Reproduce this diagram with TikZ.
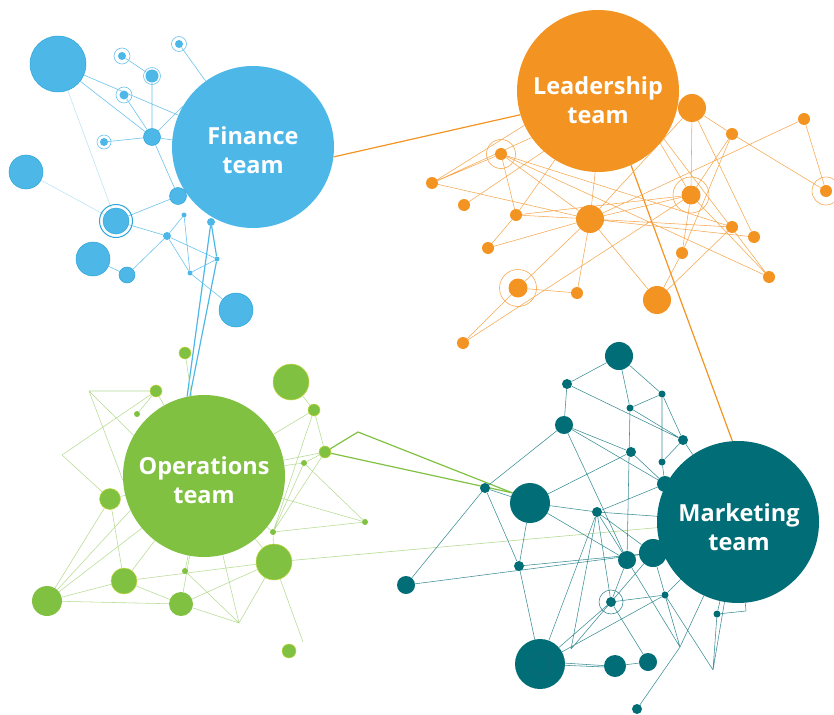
\documentclass[tikz,border=0pt]{standalone}
\usepackage{fontspec}
\setmainfont{Open Sans}
\usetikzlibrary{backgrounds}
\definecolor{fb}{HTML}{4DB8E8}
\definecolor{fbd}{HTML}{2BA5D8}
\definecolor{fbl}{HTML}{6CC3EC}
\definecolor{fo}{HTML}{F39422}
\definecolor{fol}{HTML}{F5A850}
\definecolor{fg}{HTML}{80C142}
\definecolor{fgy}{HTML}{C6D940}
\definecolor{fgl}{HTML}{B6DB93}
\definecolor{ft}{HTML}{006D77}
\definecolor{ftl}{HTML}{3A8E96}
\definecolor{ftr}{HTML}{1F5F7A}
\begin{document}
\begin{tikzpicture}[x=1pt,y=-1pt,
  bn/.style={circle,inner sep=0pt,minimum size=#1,fill=fb,draw=fbd,line width=0.5pt},
  on/.style={circle,inner sep=0pt,minimum size=#1,fill=fo},
  gn/.style={circle,inner sep=0pt,minimum size=#1,fill=fg,draw=fgy,line width=0.5pt},
  tn/.style={circle,inner sep=0pt,minimum size=#1,fill=ft},
  bigc/.style={circle,inner sep=0pt,minimum size=162pt,fill=#1},
  lbl/.style={text=white,font=\fontsize{23.5}{29}\selectfont\bfseries,align=center,inner sep=0pt},
  be/.style={draw=fbl,line width=0.6pt},
  bef/.style={draw=fbl!45,line width=0.6pt},
  oe/.style={draw=fol,line width=0.55pt},
  ge/.style={draw=fgl,line width=0.55pt},
  te/.style={draw=ftl,line width=0.55pt},
  ring/.style={line width=0.6pt}
]
\useasboundingbox (0,0) rectangle (834,714);

% ---------- big nodes ----------
\node[bigc=fb] (F) at (253,147) {};
\node[bigc=fo] (L) at (598,91) {};
\node[bigc=fg] (O) at (204,476) {};
\node[bigc=ft] (M) at (738,522) {};
\node[lbl] (Ft) at (253,150) {Finance\\team};
\node[lbl] (Lt) at (598,100) {Leadership\\team};
\node[lbl] (Ot) at (204,480) {Operations\\team};
\node[lbl] (Mt) at (739,527) {Marketing\\team};

% ---------- blue ----------
\node[bn=56pt] (b1) at (58,64) {};
\node[bn=34pt] (b2) at (26,172) {};
\node[bn=26pt] (b3) at (116,221) {};
\node[bn=34pt] (b4) at (93,259) {};
\node[bn=16pt] (b5) at (127,275) {};
\node[bn=34pt] (b6) at (236,310) {};
\node[bn=17pt] (b7) at (152,137) {};
\node[bn=17pt] (b8) at (178,196) {};
\node[bn=8pt,draw=none] (r1) at (122,56) {};
\node[bn=13pt,draw=none] (r2) at (152,76) {};
\node[bn=9pt,draw=none] (r3) at (124,95) {};
\node[bn=8pt,draw=none] (r4) at (104,142) {};
\node[bn=8pt,draw=none] (r5) at (179,44) {};
\node[bn=5pt,draw=none] (s1) at (184,215) {};
\node[bn=8pt,draw=none] (s2) at (211,222) {};
\node[bn=8pt,draw=none] (s3) at (167,236) {};
\node[bn=5pt,draw=none] (s4) at (217,259) {};
\node[bn=5pt,draw=none] (s5) at (190,273) {};
\draw[fbd,line width=1pt] (b3) circle (16.5pt);
\draw[fbl,ring] (r1) circle (8pt);
\draw[fbl,ring] (r2) circle (8.5pt);
\draw[fbl,ring] (r3) circle (8pt);
\draw[fbl,ring] (r4) circle (7pt);
\draw[fbl,ring] (r5) circle (7.5pt);

% ---------- orange ----------
\node[on=28pt] (o1) at (590,219) {};
\node[on=28pt] (o2) at (692,108) {};
\node[on=19pt] (o3) at (691,195) {};
\node[on=12pt] (o4) at (501,154) {};
\node[on=19pt] (o5) at (518,288) {};
\node[on=12pt] (o6) at (826,191) {};
\node[on=28pt] (o7) at (657,300) {};
\node[on=12pt] (o8) at (432,183) {};
\node[on=12pt] (o9) at (464,205) {};
\node[on=12pt] (o10) at (516,215) {};
\node[on=12pt] (o11) at (488,248) {};
\node[on=12pt] (o12) at (577,293) {};
\node[on=12pt] (o13) at (463,343) {};
\node[on=12pt] (o14) at (732,134) {};
\node[on=12pt] (o15) at (804,119) {};
\node[on=12pt] (o16) at (732,227) {};
\node[on=12pt] (o17) at (754,237) {};
\node[on=12pt] (o18) at (682,253) {};
\node[on=12pt] (o19) at (769,277) {};
\draw[fol,ring] (o3) circle (18pt);
\draw[fol,ring] (o4) circle (14.5pt);
\draw[fol,ring] (o5) circle (18.5pt);
\draw[fol,ring] (o6) circle (14pt);

% ---------- green ----------
\node[gn=36pt] (g1) at (291,382) {};
\node[gn=12pt] (g2) at (314,410) {};
\node[gn=12pt] (g3) at (325,452) {};
\node[gn=6pt,draw=none] (g4) at (304,463) {};
\node[gn=6pt,draw=none] (g5) at (365,522) {};
\node[gn=6pt,draw=none] (g6) at (273,532) {};
\node[gn=36pt] (g7) at (274,562) {};
\node[gn=12pt] (g8) at (185,353) {};
\node[gn=12pt] (g9) at (156,391) {};
\node[gn=6pt,draw=none] (g10) at (137,414) {};
\node[gn=21pt] (g11) at (110,499) {};
\node[gn=26pt] (g12) at (124,581) {};
\node[gn=30pt,draw=none] (g13) at (47,601) {};
\node[gn=24pt,draw=none] (g14) at (181,604) {};
\node[gn=6pt,draw=none] (g15) at (185,571) {};
\node[gn=14pt] (g16) at (289,651) {};
\coordinate (gv1) at (89,391);
\coordinate (gv2) at (62,455);
\coordinate (gv3) at (239,623);
\coordinate (gv4) at (303,642);
\coordinate (gv5) at (358,432);

% ---------- teal ----------
\node[tn=28pt] (t1) at (619,356) {};
\node[tn=10pt] (t2) at (567,384) {};
\node[tn=18pt] (t3) at (564,425) {};
\node[tn=7pt] (t4) at (662,394) {};
\node[tn=7pt] (t5) at (630,408) {};
\node[tn=10pt] (t6) at (683,440) {};
\node[tn=10pt] (t7) at (631,452) {};
\node[tn=7pt] (t8) at (662,462) {};
\node[tn=16pt] (t9) at (665,484) {};
\node[tn=10pt] (t10) at (485,488) {};
\node[tn=40pt] (t11) at (530,503) {};
\node[tn=10pt] (t12) at (597,512) {};
\node[tn=10pt] (t13) at (519,566) {};
\node[tn=18pt] (t14) at (406,585) {};
\node[tn=18pt] (t15) at (627,560) {};
\node[tn=28pt] (t16) at (653,553) {};
\node[tn=10pt] (t17) at (611,602) {};
\node[tn=7pt] (t18) at (665,595) {};
\node[tn=7pt] (t19) at (717,614) {};
\node[tn=50pt] (t20) at (540,664) {};
\node[tn=22pt] (t21) at (615,666) {};
\node[tn=18pt] (t22) at (648,662) {};
\node[tn=10pt] (t23) at (637,709) {};
\coordinate (tv1) at (571,649);
\coordinate (tv2) at (680,647);
\coordinate (tv3) at (713,670);
\coordinate (tv4) at (746,611);
\draw[ftl,ring] (t17) circle (12pt);
\draw[ftr,line width=0.4pt] (t20) circle (11pt);

\begin{pgfonlayer}{background}
% inter-cluster
\draw[fo,line width=1.2pt] (F.-7) -- (L.197);
\draw[fo,line width=1.2pt] (L.-66) -- (M.94);
\draw[fb,line width=1.2pt] (s2) -- (O.102);
\draw[fb,line width=1.2pt] (s2) -- (s4) -- (O.100);
\draw[fg,line width=1.2pt] (g3) -- (gv5) -- (t11.150);
\draw[fg,line width=1.2pt] (g3) -- (t11.150);
\draw[fgl,line width=0.6pt] (g7) -- (M.184);

% blue edges
\draw[be] (b1) -- (F) (b1) -- (b7) (r1) -- (r2) (r2) -- (b7) (r3) -- (b7)
  (r4) -- (b7) (r5) -- (F) (b7) -- (F.175) (b7) -- (F.150) (b7) -- (b8)
  (b3) -- (b8) (b3) -- (s3) (s3) -- (s4) (s3) -- (s1) (s3) -- (s5)
  (s3) -- (b5) (s1) -- (s5) (s5) -- (s4) (s5) -- (b6) (b4) -- (b5)
  (b8) -- (F);
\draw[bef] (b1) -- (b3) (b2) -- (b3);

% orange edges
\draw[oe] (o8) -- (o4) (o8) -- (L.205) (o8) -- (L.215) (o8) -- (o1)
  (o9) -- (L.228) (o4) -- (o10) (o4) -- (o1) (o4) -- (o19) (o4) -- (o16)
  (o10) -- (L.238) (o10) -- (o11) (o10) -- (o1) (o10) -- (o3)
  (o11) -- (o1) (o1) -- (L.-92) (o1) -- (o12) (o1) -- (o5) (o1) -- (o7)
  (o1) -- (o3) (o1) -- (o16) (o1) -- (o17) (o1) -- (o2)
  (o5) -- (o12) (o5) -- (o13) (o13) -- (o3) (o2) -- (o3) (o2) -- (o14)
  (o2) -- (o17) (o14) -- (o6) (o15) -- (o6) (o15) -- (o1) (o14) -- (o18)
  (o3) -- (o19) (o3) -- (o18) (o18) -- (o7) (o16) -- (o7)
  (L.-40) -- (o3) (L.-36) -- (o19) (o14) -- (o3);

% green edges
\draw[ge] (g8) -- (O) (g9) -- (gv1) (gv1) -- (O.183) (gv1) -- (O.150)
  (g9) -- (gv2) (gv2) -- (g11) (g9) -- (g10) (g9) -- (O)
  (g13) -- (g11) (g13) -- (O.220) (g13) -- (O.205) (g13) -- (g12) (g13) -- (g14)
  (g11) -- (g12) (g12) -- (g7) (g12) -- (O) (g12) -- (g14) (g14) -- (g7)
  (g14) -- (gv3) (g15) -- (gv3) (g15) -- (O) (gv3) -- (O) (gv3) -- (g7)
  (g7) -- (gv4) (g6) -- (g7) (g6) -- (g5) (g6) -- (g2) (g6) -- (g3)
  (g4) -- (g5) (O) -- (g5) (g1) -- (g2) (g2) -- (g3) (g2) -- (O)
  (g3) -- (O) (g4) -- (O) (g7) -- (O) (g4) -- (g3) (g11) -- (O) (g14) -- (O)
  (g6) -- (O) (g4) -- (g6);

% teal edges
\draw[te] (t1) -- (t2) (t1) -- (t5) (t1) -- (t4) (t2) -- (t3) (t2) -- (t6)
  (t5) -- (t4) (t5) -- (t6) (t4) -- (t6) (t4) -- (t8) (t5) -- (t15)
  (t3) -- (t7) (t3) -- (t9) (t3) -- (t10) (t3) -- (t15) (t6) -- (t8) (t6) -- (M)
  (t8) -- (t9) (t7) -- (t11) (t7) -- (t9) (t10) -- (t11) (t10) -- (t13) (t10) -- (t14)
  (t11) -- (t12) (t11) -- (t15) (t11) -- (t13) (t12) -- (t9) (t12) -- (M)
  (t12) -- (t15) (t12) -- (t16) (t12) -- (tv1) (t12) -- (t20) (t12) -- (t17)
  (t13) -- (t20) (t13) -- (t16) (t14) -- (t16) (t15) -- (t17) (t16) -- (t17)
  (t17) -- (t18) (t17) -- (t20) (t17) -- (tv1) (t17) -- (t22) (t18) -- (t20)
  (t18) -- (tv2) (t18) -- (M) (tv2) -- (t15) (tv2) -- (M) (t23) -- (tv2)
  (t19) -- (tv3) (t19) -- (tv4) (tv3) -- (M) (t19) -- (M) (tv3) -- (t18)
  (tv4) -- (M) (t21) -- (t22) (tv2) -- (t16);
\draw[te] (t20.2) -- (t21.178) (t20.-3) -- (t21.-175);
\end{pgfonlayer}
\end{tikzpicture}
\end{document}
